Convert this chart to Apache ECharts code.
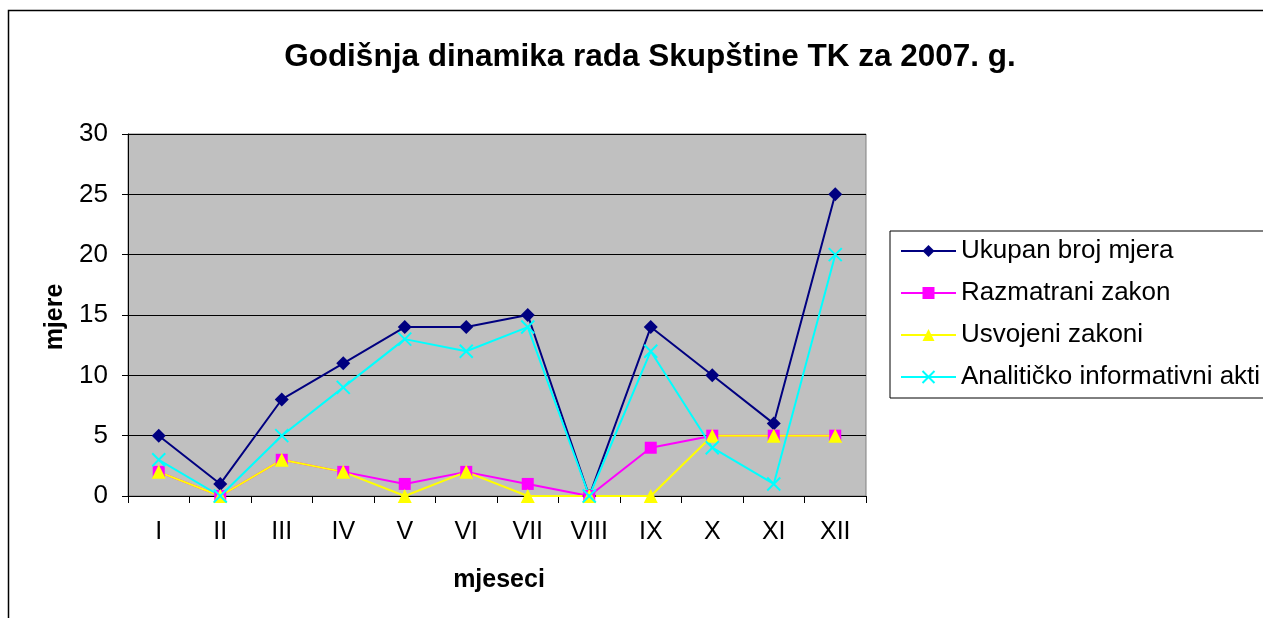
<!DOCTYPE html>
<html>
<head>
<meta charset="utf-8">
<script src="https://cdn.jsdelivr.net/npm/echarts@6/dist/echarts.min.js"></script>
<style>html,body{margin:0;padding:0;background:#fff;}#c{width:1263px;height:618px;}</style>
</head>
<body>
<div id="c"></div>
<script>
const categories = ['I','II','III','IV','V','VI','VII','VIII','IX','X','XI','XII'];
const ukupan = [5,1,8,11,14,14,15,0,14,10,6,25];
const razmatrani = [2,0,3,2,1,2,1,0,4,5,5,5];
const usvojeni = [2,0,3,2,0,2,0,0,0,5,5,5];
const analiticko = [3,0,5,9,13,12,14,0,12,4,1,20];
const seriesNames = ['Ukupan broj mjera','Razmatrani zakon','Usvojeni zakoni','Analitičko informativni akti'];
const yTicks = [0,5,10,15,20,25,30];

const FONT = 'Liberation Sans, Arial, sans-serif';
const crossPath = 'path://M0,0L10,10M10,0L0,10';
const chart = echarts.init(document.getElementById('c'), null, {renderer:'canvas'});
function mk(name, data, color, symbol, size, extra){
  return Object.assign({
    name, type:'line', data, symbol, symbolSize:size,
    lineStyle:{color, width:2},
    itemStyle:{color},
    emphasis:{disabled:true},
    animation:false
  }, extra||{});
}
chart.setOption({
  animation:false,
  backgroundColor:'#ffffff',
  title:{
    text:'Godišnja dinamika rada Skupštine TK za 2007. g.',
    left:645, top:36, textAlign:'center',
    textStyle:{fontFamily:FONT, fontSize:31.5, fontWeight:'bold', color:'#000'}
  },
  graphic:[
    {type:'rect', shape:{x:8.5,y:10.5,width:1262,height:620}, style:{fill:'none', stroke:'#000', lineWidth:1.5}, silent:true, z:-1},
    {type:'text', x:55, y:317, rotation:Math.PI/2, style:{text:'mjere', font:'bold 25px '+FONT, fill:'#000', align:'center', verticalAlign:'middle'}},
    {type:'text', x:499, y:580, style:{text:'mjeseci', font:'bold 25px '+FONT, fill:'#000', align:'center', verticalAlign:'middle'}}
  ],
  legend:{
    orient:'vertical', left:890, top:231,
    padding:[5,10,6,10], itemGap:12, itemWidth:55, itemHeight:15,
    borderColor:'#000', borderWidth:1,
    data:seriesNames,
    textStyle:{fontFamily:FONT, fontSize:26, color:'#000', lineHeight:30}
  },
  grid:{left:128, top:134, right:397, bottom:122, show:true, backgroundColor:'#C0C0C0', borderColor:'#808080', borderWidth:1},
  xAxis:{
    type:'category', data:categories, boundaryGap:true,
    axisLine:{lineStyle:{color:'#000', width:1}},
    axisTick:{show:true, length:7, lineStyle:{color:'#000'}},
    axisLabel:{fontFamily:FONT, fontSize:25, color:'#000', margin:24}
  },
  yAxis:{
    type:'value', min:0, max:30, interval:5,
    axisLine:{show:true, lineStyle:{color:'#000', width:1}},
    axisTick:{show:true, length:6, lineStyle:{color:'#000'}},
    axisLabel:{fontFamily:FONT, fontSize:26, color:'#000', margin:20,
      formatter:v=>yTicks.includes(v)?String(v):''},
    splitLine:{show:true, lineStyle:{color:'#000', width:1}}
  },
  series:[
    mk(seriesNames[0], ukupan, '#000080', 'diamond', 14),
    mk(seriesNames[1], razmatrani, '#FF00FF', 'rect', 12),
    mk(seriesNames[2], usvojeni, '#FFFF00', 'triangle', 14),
    mk(seriesNames[3], analiticko, '#00FFFF', crossPath, 13, {itemStyle:{color:'none', borderColor:'#00FFFF', borderWidth:2}})
  ]
});
</script>
</body>
</html>
